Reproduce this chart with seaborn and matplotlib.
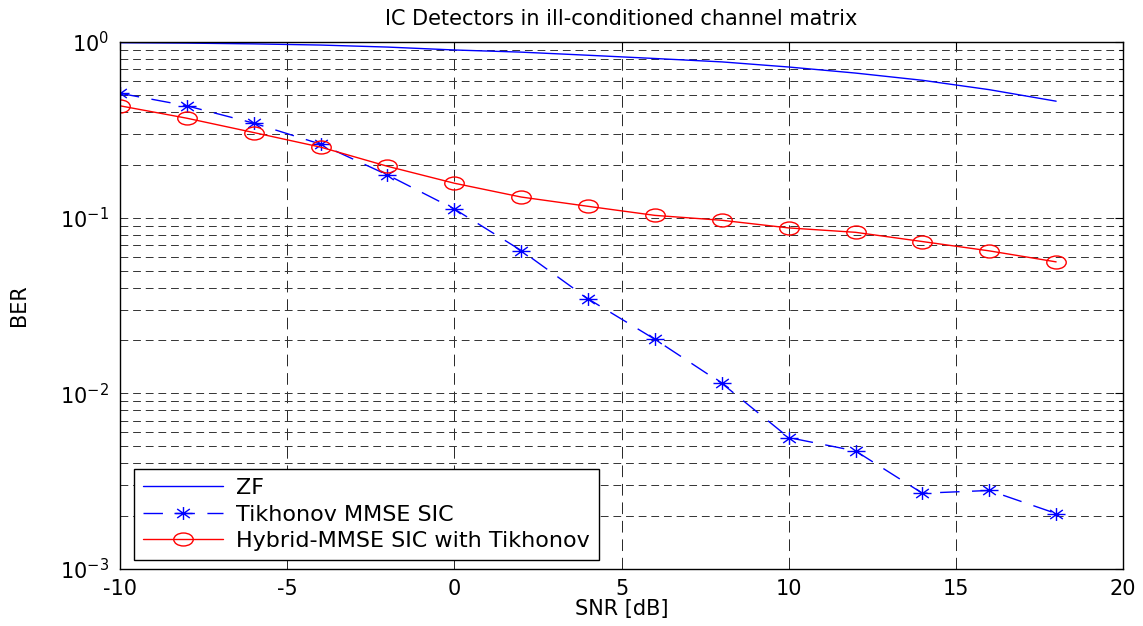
import numpy as np
import pandas as pd
import matplotlib
matplotlib.use("Agg")
import matplotlib.pyplot as plt
import seaborn as sns
from matplotlib.path import Path
from matplotlib.markers import MarkerStyle
from matplotlib.ticker import LogLocator, FixedLocator

snr = [-10, -8, -6, -4, -2, 0, 2, 4, 6, 8, 10, 12, 14, 16, 18]
ber_zf = [0.99, 0.985, 0.975, 0.96, 0.935, 0.90, 0.875, 0.84, 0.805, 0.77, 0.72, 0.665, 0.605, 0.535, 0.46]
ber_tik = [0.51, 0.433, 0.345, 0.262, 0.175, 0.112, 0.065, 0.0345, 0.0203, 0.0114,
           0.0056, 0.0047, 0.0027, 0.0028, 0.00207]
ber_hyb = [0.433, 0.368, 0.305, 0.252, 0.196, 0.157, 0.131, 0.116, 0.103, 0.0966,
           0.0874, 0.0825, 0.0731, 0.0647, 0.056]
labels = ["ZF", "Tikhonov MMSE SIC", "Hybrid-MMSE SIC with Tikhonov"]
title = "IC Detectors in ill-conditioned channel matrix"
xlabel = "SNR [dB]"
ylabel = "BER"
xticks = [-10, -5, 0, 5, 10, 15, 20]

sns.set_style("white")
plt.rcParams['font.family'] = ['DejaVu Sans']
plt.rcParams['axes.unicode_minus'] = False
plt.rcParams['mathtext.fontset'] = 'custom'
plt.rcParams['mathtext.rm'] = 'DejaVu Sans'
plt.rcParams['mathtext.default'] = 'regular'
plt.rcParams['text.color'] = 'black'
plt.rcParams['axes.labelcolor'] = 'black'
plt.rcParams['xtick.color'] = 'black'
plt.rcParams['ytick.color'] = 'black'

fig = plt.figure(figsize=(11.43, 6.26), dpi=100)
ax = fig.add_axes([0.105, 0.091, 0.8775, 0.842])

# custom markers (stretched horizontally like the reference)
ell = Path.unit_circle().transformed(matplotlib.transforms.Affine2D().scale(1.5, 1.0))
ast_verts = [(-1, 0), (1, 0), (0, -1), (0, 1), (-.7, -.7), (.7, .7), (-.7, .7), (.7, -.7)]
ast_codes = [Path.MOVETO, Path.LINETO] * 4
ast = Path([(x * 1.4, y) for x, y in ast_verts], ast_codes)

df = pd.DataFrame({"snr": snr, "zf": ber_zf, "tik": ber_tik, "hyb": ber_hyb})

sns.lineplot(data=df, x="snr", y="zf", ax=ax, color="#0000ff", linewidth=1.0, label=labels[0])
sns.lineplot(data=df, x="snr", y="tik", ax=ax, color="#0000ff", linewidth=1.0,
             marker=MarkerStyle(ast), markersize=13, markeredgewidth=1.0,
             markeredgecolor="#0000ff", label=labels[1])
sns.lineplot(data=df, x="snr", y="hyb", ax=ax, color="#ff0000", linewidth=1.0,
             marker=MarkerStyle(ell), markersize=14, markeredgewidth=1.0,
             markerfacecolor="none", markeredgecolor="#ff0000", label=labels[2])
ax.lines[1].set_dashes([14, 9])

ax.set_yscale("log")
ax.set_xlim(-10, 20)
ax.set_ylim(1e-3, 1e0)
ax.xaxis.set_major_locator(FixedLocator(xticks))
ax.yaxis.set_major_locator(LogLocator(base=10, numticks=10))
ax.yaxis.set_minor_locator(LogLocator(base=10, subs=np.arange(2, 10), numticks=20))

gkw = dict(color="0.2", linestyle=(0, (8, 5)), linewidth=0.7)
ax.grid(True, which="major", axis="x", color="0.15", linestyle=(0, (12, 7)), linewidth=0.7)
ax.grid(True, which="major", axis="y", **gkw)
ax.grid(True, which="minor", axis="y", **gkw)

ax.tick_params(which="both", direction="in", top=True, right=True, labelsize=15)
ax.tick_params(which="major", length=6, width=0.8)
ax.tick_params(which="minor", length=3, width=0.8)
ax.tick_params(axis="x", which="major", pad=7)
ax.tick_params(axis="y", which="major", pad=8)
for s in ax.spines.values():
    s.set_color("black")
    s.set_linewidth(1.0)

ax.set_title(title, fontsize=15, pad=12)
ax.set_xlabel(xlabel, fontsize=15, labelpad=0)
ax.set_ylabel(ylabel, fontsize=15, labelpad=22)

handles = ax.lines[:3]
leg = ax.legend(handles, labels, loc="lower left", bbox_to_anchor=(0.014, 0.017),
                borderaxespad=0, fontsize=16, handlelength=3.6, labelspacing=0.3,
                fancybox=False, framealpha=1, edgecolor="black", borderpad=0.4,
                handletextpad=0.6)
leg.get_frame().set_linewidth(1.0)

fig.savefig("out.png", dpi=100)
